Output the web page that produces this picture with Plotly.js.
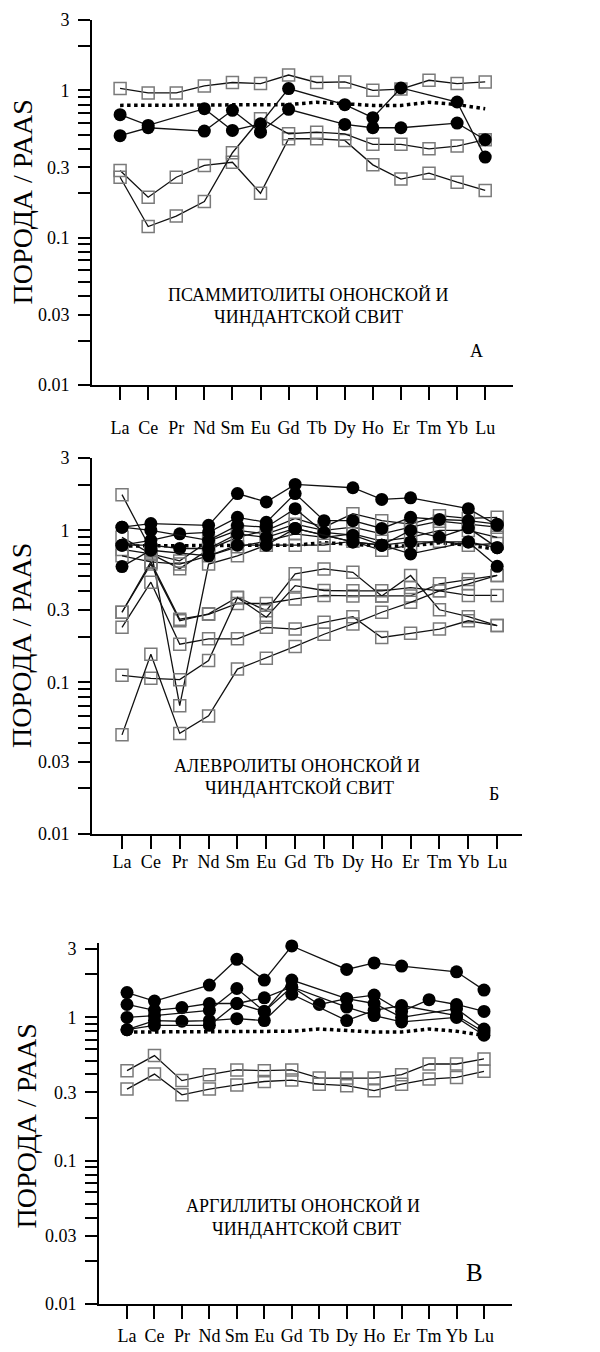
<!DOCTYPE html>
<html>
<head>
<meta charset="utf-8">
<script src="https://cdn.plot.ly/plotly-3.0.1.min.js"></script>
<style>html,body{margin:0;padding:0;background:#fff;}#chart{width:600px;height:1352px;}</style>
</head>
<body>
<div id="chart"></div>
<script>
// ---------- data ----------
const elements = ['La','Ce','Pr','Nd','Sm','Eu','Gd','Tb','Dy','Ho','Er','Tm','Yb','Lu'];
const yTickVals = [0.01, 0.03, 0.1, 0.3, 1, 3];
const yTickText = ['0.01', '0.03', '0.1', '0.3', '1', '3'];
const yMinorVals = [0.02, 0.04, 0.05, 0.06, 0.07, 0.08, 0.09, 0.2, 0.4, 0.5, 0.6, 0.7, 0.8, 0.9, 2];
const referenceCurve = [0.79, 0.79, 0.79, 0.80, 0.79, 0.79, 0.80, 0.83, 0.81, 0.79, 0.79, 0.83, 0.80, 0.75];

// Panel A — psammitolites
const psamSquares1 = [1.03, 0.96, 0.96, 1.07, 1.13, 1.11, 1.27, 1.13, 1.14, 1.00, 1.02, 1.17, 1.11, 1.14];
const psamSquares2 = [0.286, 0.188, 0.257, 0.309, 0.325, 0.200, 0.469, 0.469, 0.457, 0.312, 0.250, 0.274, 0.238, 0.209];
const psamSquares3 = [0.257, 0.119, 0.140, 0.176, 0.377, 0.642, 0.507, 0.520, 0.507, 0.430, 0.430, 0.401, 0.418, 0.462];
const psamCircles1 = [0.683, 0.578, null, 0.750, 0.534, 0.593, 1.027, null, 0.799, 0.652, 1.037, null, 0.833, 0.352];
const psamCircles2 = [0.492, 0.557, null, 0.529, 0.731, 0.520, 0.743, null, 0.587, 0.557, 0.557, null, 0.599, 0.462];

// Panel Б — aleurolites
const aleCircles1 = [1.05, 1.11, null, 1.08, 1.75, 1.54, 2.01, null, 1.91, 1.60, 1.64, null, 1.39, 1.08];
const aleCircles2 = [0.80, 0.86, 0.95, 0.97, 1.22, 1.13, 1.75, 1.16, 1.16, 1.03, 1.22, 1.18, 1.16, 1.10];
const aleCircles3 = [1.05, 1.00, null, 0.86, 1.08, 1.05, 1.39, 0.97, 0.93, 0.80, 1.00, 0.90, 1.04, 0.77];
const aleCircles4 = [0.80, 0.80, 0.76, 0.76, 0.95, 0.90, 1.03, null, 0.84, 0.80, 0.84, null, 0.84, 0.77];
const aleCircles5 = [0.578, 0.74, null, 0.68, 0.80, 0.80, 1.03, null, 0.84, 0.80, 0.70, null, 0.84, 0.58];
const aleSquaresU1 = [1.72, 0.75, 0.07, 0.60, 0.68, 0.80, 0.80, 0.80, 0.85, 0.74, 0.80, 0.85, 0.80, 0.82];
const aleSquaresU2 = [0.90, 0.70, 0.56, 0.75, 0.90, 1.00, 1.20, 1.05, 1.29, 1.16, 1.10, 1.25, 1.20, 1.22];
const aleSquaresU3 = [0.75, 0.70, 0.63, 0.85, 1.00, 0.95, 1.10, 1.00, 1.05, 0.95, 1.05, 1.15, 1.10, 1.05];
const aleSquaresU4 = [0.68, 0.62, 0.60, 0.68, 0.78, 0.85, 0.95, 0.90, 0.95, 0.85, 0.90, 1.00, 1.00, 0.90];
const aleSquaresL1 = [0.289, 0.60, 0.254, 0.282, 0.363, 0.296, 0.518, 0.558, 0.530, 0.370, 0.505, 0.300, 0.270, 0.236];
const aleSquaresL2 = [0.230, 0.456, 0.178, 0.193, 0.193, 0.230, 0.224, 0.248, 0.270, 0.197, 0.210, 0.224, 0.254, 0.236];
const aleSquaresL3 = [0.289, 0.62, 0.260, 0.280, 0.330, 0.330, 0.354, 0.373, 0.370, 0.370, 0.370, 0.445, 0.475, 0.505];
const aleSquaresL4 = [0.111, 0.106, 0.104, 0.139, 0.360, 0.268, 0.433, 0.402, 0.400, 0.400, 0.420, 0.400, 0.373, 0.373];
const aleSquaresL5 = [0.045, 0.153, 0.046, 0.060, 0.122, 0.144, 0.172, 0.207, 0.242, 0.289, 0.336, 0.400, 0.445, 0.505];

// Panel В — argillites
const argCircles1 = [1.49, 1.30, null, 1.68, 2.54, 1.82, 3.15, null, 2.16, 2.40, 2.28, null, 2.08, 1.55];
const argCircles2 = [1.23, 1.12, 1.17, 1.25, 1.25, 1.37, 1.63, 1.23, 1.35, 1.43, 1.10, 1.33, 1.23, 1.10];
const argCircles3 = [1.00, 1.03, null, 1.12, 1.59, 1.10, 1.82, null, 1.35, 1.25, 1.00, null, 1.15, 0.83];
const argCircles4 = [0.82, 0.95, 0.94, 0.95, 0.98, 0.95, 1.45, null, 0.95, 1.12, 1.21, null, 1.03, 0.79];
const argCircles5 = [0.82, 0.88, null, 0.88, 1.25, 1.10, 1.63, null, 1.18, 1.03, 0.93, null, 1.00, 0.75];
const argSquares1 = [0.425, 0.541, 0.362, 0.398, 0.430, 0.425, 0.430, 0.377, 0.377, 0.377, 0.398, 0.473, 0.473, 0.513];
const argSquares2 = [0.316, 0.402, 0.288, 0.316, 0.338, 0.357, 0.365, 0.342, 0.334, 0.308, 0.342, 0.371, 0.381, 0.420];

const yTitle = 'ПОРОДА / PAAS';
const panelTexts = [
  ['ПСАММИТОЛИТЫ ОНОНСКОЙ И', 'ЧИНДАНТСКОЙ СВИТ', 'А'],
  ['АЛЕВРОЛИТЫ ОНОНСКОЙ И', 'ЧИНДАНТСКОЙ СВИТ', 'Б'],
  ['АРГИЛЛИТЫ ОНОНСКОЙ И', 'ЧИНДАНТСКОЙ СВИТ', 'В']
];

// ---------- drawing ----------
const W = 600, H = 1352;
const FONT = 'Liberation Serif, Times New Roman, serif';
const px = v => v / W;
const py = v => 1 - v / H;

function sq(vals, ax) {
  return {x: elements, y: vals, xaxis: 'x' + ax, yaxis: 'y' + ax, type: 'scatter', mode: 'lines+markers',
    connectgaps: true, cliponaxis: false, line: {color: '#111', width: 1.3},
    marker: {symbol: 'square-open', size: 12, color: '#7a7a7a', line: {color: '#7a7a7a', width: 1.5}},
    hoverinfo: 'skip', showlegend: false};
}
function ci(vals, ax) {
  return {x: elements, y: vals, xaxis: 'x' + ax, yaxis: 'y' + ax, type: 'scatter', mode: 'lines+markers',
    connectgaps: true, cliponaxis: false, line: {color: '#111', width: 1.3},
    marker: {symbol: 'circle', size: 13, color: '#000'},
    hoverinfo: 'skip', showlegend: false};
}
function ref(ax) {
  return {x: elements, y: referenceCurve, xaxis: 'x' + ax, yaxis: 'y' + ax, type: 'scatter', mode: 'lines',
    line: {color: '#000', width: 3.5, dash: 'dot'}, hoverinfo: 'skip', showlegend: false};
}

const traces = [
  ref(''), sq(psamSquares1, ''), sq(psamSquares2, ''), sq(psamSquares3, ''), ci(psamCircles1, ''), ci(psamCircles2, ''),
  ref('2'), sq(aleSquaresU1, '2'), sq(aleSquaresU2, '2'), sq(aleSquaresU3, '2'), sq(aleSquaresU4, '2'),
  sq(aleSquaresL1, '2'), sq(aleSquaresL2, '2'), sq(aleSquaresL3, '2'), sq(aleSquaresL4, '2'), sq(aleSquaresL5, '2'),
  ci(aleCircles1, '2'), ci(aleCircles2, '2'), ci(aleCircles3, '2'), ci(aleCircles4, '2'), ci(aleCircles5, '2'),
  ref('3'), sq(argSquares1, '3'), sq(argSquares2, '3'),
  ci(argCircles1, '3'), ci(argCircles2, '3'), ci(argCircles3, '3'), ci(argCircles4, '3'), ci(argCircles5, '3')
];

// panel geometry (pixels); y3 = pixel row of the value 3, yb = row of 0.01, yTop = top value of the range
const panels = [
  {xl: 92, xr: 513, y3: 20, yb: 385, yTop: 3, r0: -1, r1: 13.99, xStand: 12, titleX: 22,
   t1: [308, 295], t2: [308, 317], let: [476, 351], letSize: 18},
  {xl: 92, xr: 522, y3: 458, yb: 834, yTop: 3, r0: -1.04, r1: 13.86, xStand: -3, titleX: 22,
   t1: [297, 766], t2: [299, 788], let: [494, 794], letSize: 18},
  {xl: 99, xr: 512, y3: 949, yb: 1304, yTop: 3.3, r0: -1.02, r1: 14.02, xStand: 1, titleX: 26,
   t1: [303, 1206], t2: [306, 1229], let: [474, 1272], letSize: 25}
];

const layout = {
  width: W, height: H, margin: {l: 0, r: 0, t: 0, b: 0, pad: 0},
  paper_bgcolor: '#fff', plot_bgcolor: 'rgba(0,0,0,0)',
  font: {family: FONT, color: '#000', size: 18},
  showlegend: false, annotations: []
};

panels.forEach((p, i) => {
  const s = i === 0 ? '' : String(i + 1);
  const decadePx = (p.yb - p.y3) / (Math.log10(3) + 2);
  const yt = p.y3 - (Math.log10(p.yTop) - Math.log10(3)) * decadePx;
  layout['xaxis' + s] = {
    domain: [px(p.xl), px(p.xr)], anchor: 'y' + s, type: 'category',
    categoryorder: 'array', categoryarray: elements, range: [p.r0, p.r1],
    tickmode: 'array', tickvals: elements, ticktext: elements,
    ticks: 'outside', ticklen: 13, tickwidth: 2, tickcolor: '#000',
    showline: true, linewidth: 2, linecolor: '#000', showgrid: false, zeroline: false,
    tickfont: {family: FONT, size: 18, color: '#000'}, ticklabelstandoff: p.xStand, automargin: false, fixedrange: true
  };
  layout['yaxis' + s] = {
    domain: [py(p.yb), py(yt)], anchor: 'x' + s, type: 'log', range: [-2, Math.log10(p.yTop)],
    tickmode: 'array', tickvals: yTickVals, ticktext: yTickText,
    ticks: 'outside', ticklen: 12, tickwidth: 2, tickcolor: '#000',
    minor: {tickmode: 'array', tickvals: yMinorVals, ticks: 'outside', ticklen: 12, tickwidth: 2, tickcolor: '#000', showgrid: false},
    showline: true, linewidth: 2, linecolor: '#000', showgrid: false, zeroline: false,
    tickfont: {family: FONT, size: 18, color: '#000'}, ticklabelstandoff: 5, automargin: false, fixedrange: true
  };
  layout.annotations.push(
    {text: yTitle, xref: 'paper', yref: 'paper', x: px(p.titleX), y: py((p.y3 + p.yb) / 2),
     textangle: -90, showarrow: false, xanchor: 'center', yanchor: 'middle', font: {family: FONT, size: 28, color: '#000'}},
    {text: panelTexts[i][0], xref: 'paper', yref: 'paper', x: px(p.t1[0]), y: py(p.t1[1]),
     showarrow: false, xanchor: 'center', yanchor: 'middle', font: {family: FONT, size: 18, color: '#000'}},
    {text: panelTexts[i][1], xref: 'paper', yref: 'paper', x: px(p.t2[0]), y: py(p.t2[1]),
     showarrow: false, xanchor: 'center', yanchor: 'middle', font: {family: FONT, size: 18, color: '#000'}},
    {text: panelTexts[i][2], xref: 'paper', yref: 'paper', x: px(p.let[0]), y: py(p.let[1]),
     showarrow: false, xanchor: 'center', yanchor: 'middle', font: {family: FONT, size: p.letSize, color: '#000'}}
  );
});

Plotly.newPlot('chart', traces, layout, {staticPlot: true, displayModeBar: false});
</script>
</body>
</html>
